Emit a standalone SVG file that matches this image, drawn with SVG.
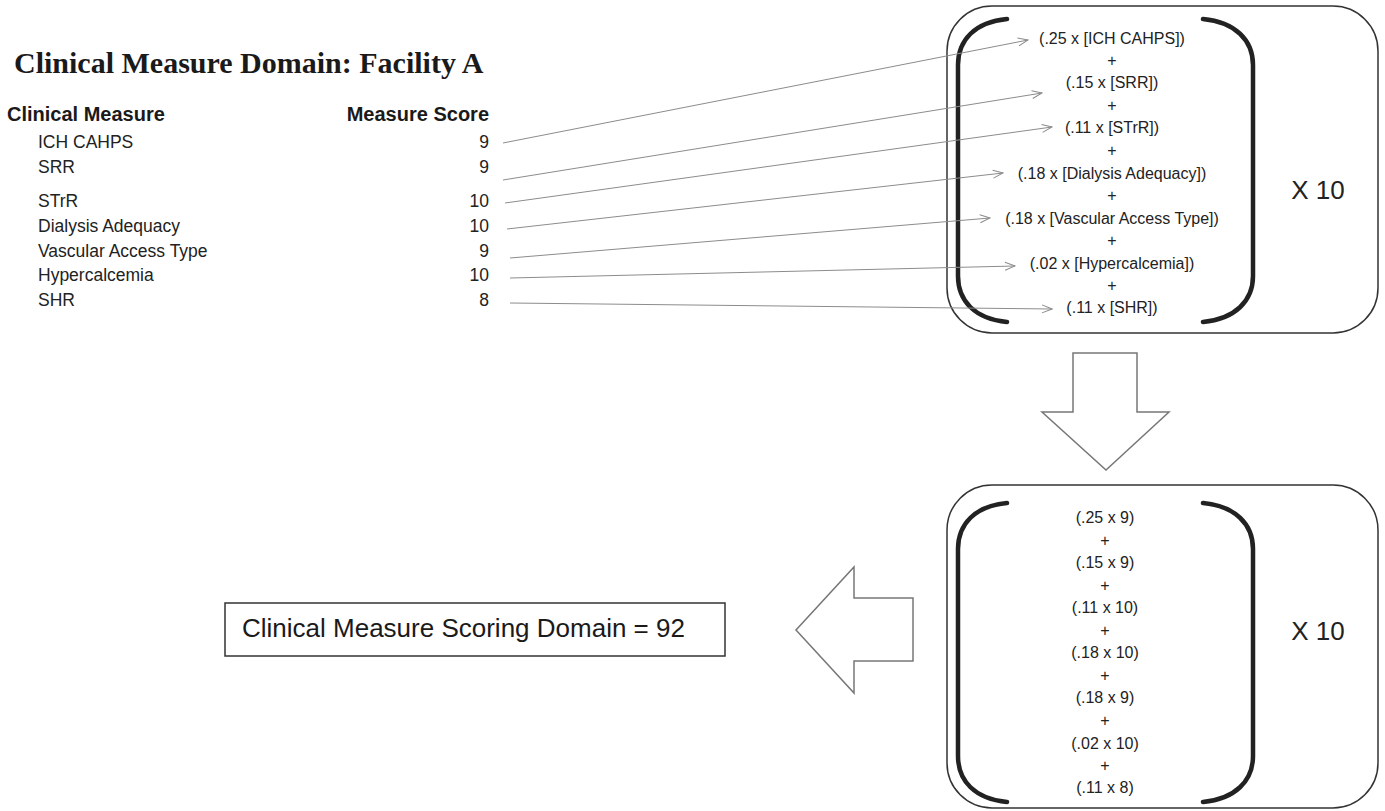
<svg xmlns="http://www.w3.org/2000/svg" width="1385" height="811" viewBox="0 0 1385 811">
  <style>
    .title { font-family: "Liberation Serif", "Times New Roman", serif; font-weight: bold; font-size: 30px; fill: #1a1a1a; }
    .hdr { font-family: "Liberation Sans", Arial, sans-serif; font-weight: bold; font-size: 20px; fill: #1a1a1a; }
    .item { font-family: "Liberation Sans", Arial, sans-serif; font-size: 17.5px; fill: #222; }
    .num { font-family: "Liberation Sans", Arial, sans-serif; font-size: 17.5px; fill: #222; text-anchor: end; }
    .eq { font-family: "Liberation Sans", Arial, sans-serif; font-size: 16px; fill: #222; text-anchor: middle; dominant-baseline: central; }
    .x10 { font-family: "Liberation Sans", Arial, sans-serif; font-size: 26px; fill: #222; text-anchor: middle; dominant-baseline: central; }
    .result { font-family: "Liberation Sans", Arial, sans-serif; font-size: 26px; fill: #1a1a1a; }
    .box { fill: none; stroke: #333; stroke-width: 1.5; }
    .bracket { fill: none; stroke: #222; stroke-width: 4.5; stroke-linecap: round; }
    .bigarrow { fill: #fff; stroke: #777; stroke-width: 1.5; }
    .conn { fill: none; stroke: #8c8c8c; stroke-width: 1; marker-end: url(#open); }
  </style>
  <defs>
    <marker id="open" viewBox="0 0 12 10" refX="11" refY="5" markerWidth="12" markerHeight="10" markerUnits="userSpaceOnUse" orient="auto">
      <path d="M1,1 L11,5 L1,9" fill="none" stroke="#8c8c8c" stroke-width="1"/>
    </marker>
  </defs>
  <rect width="1385" height="811" fill="#fff"/>

  <g id="title">
    <text class="title" x="14" y="73">Clinical Measure Domain: Facility A</text>
  </g>

  <g id="table">
    <text class="hdr" x="7" y="121">Clinical Measure</text>
    <text class="hdr" x="489" y="121" text-anchor="end">Measure Score</text>
    <text class="item" x="38" y="148">ICH CAHPS</text>
    <text class="num" x="489" y="148">9</text>
    <text class="item" x="38" y="173">SRR</text>
    <text class="num" x="489" y="173">9</text>
    <text class="item" x="38" y="207">STrR</text>
    <text class="num" x="489" y="207">10</text>
    <text class="item" x="38" y="232">Dialysis Adequacy</text>
    <text class="num" x="489" y="232">10</text>
    <text class="item" x="38" y="257">Vascular Access Type</text>
    <text class="num" x="489" y="257">9</text>
    <text class="item" x="38" y="281">Hypercalcemia</text>
    <text class="num" x="489" y="281">10</text>
    <text class="item" x="38" y="306">SHR</text>
    <text class="num" x="489" y="306">8</text>
  </g>

  <g id="formula-box">
    <rect class="box" x="947" y="6" width="431" height="327" rx="45" ry="45"/>
    <path class="bracket" d="M1007,19 C975,22 958,40 958,65 L958,276 C958,301 975,319 1007,322"/>
    <path class="bracket" d="M1203,19 C1235,22 1253,40 1253,65 L1253,276 C1253,301 1235,319 1203,322"/>
    <text class="eq" x="1112" y="38">(.25 x [ICH CAHPS])</text>
    <text class="eq" x="1112" y="60">+</text>
    <text class="eq" x="1112" y="82">(.15 x [SRR])</text>
    <text class="eq" x="1112" y="105">+</text>
    <text class="eq" x="1112" y="127">(.11 x [STrR])</text>
    <text class="eq" x="1112" y="150">+</text>
    <text class="eq" x="1112" y="173">(.18 x [Dialysis Adequacy])</text>
    <text class="eq" x="1112" y="195">+</text>
    <text class="eq" x="1112" y="218">(.18 x [Vascular Access Type])</text>
    <text class="eq" x="1112" y="240">+</text>
    <text class="eq" x="1112" y="263">(.02 x [Hypercalcemia])</text>
    <text class="eq" x="1112" y="285">+</text>
    <text class="eq" x="1112" y="307">(.11 x [SHR])</text>
    <text class="x10" x="1318" y="190">X 10</text>
  </g>

  <g id="down-arrow">
    <polygon class="bigarrow" points="1073,353 1137,353 1137,412 1169,412 1106,470 1042,412 1073,412"/>
  </g>

  <g id="values-box">
    <rect class="box" x="947" y="485" width="431" height="323" rx="45" ry="45"/>
    <path class="bracket" d="M1007,503 C975,506 958,524 958,549 L958,756 C958,781 975,799 1007,802"/>
    <path class="bracket" d="M1203,503 C1235,506 1253,524 1253,549 L1253,756 C1253,781 1235,799 1203,802"/>
    <text class="eq" x="1105" y="517">(.25 x 9)</text>
    <text class="eq" x="1105" y="540">+</text>
    <text class="eq" x="1105" y="562">(.15 x 9)</text>
    <text class="eq" x="1105" y="585">+</text>
    <text class="eq" x="1105" y="607">(.11 x 10)</text>
    <text class="eq" x="1105" y="630">+</text>
    <text class="eq" x="1105" y="652">(.18 x 10)</text>
    <text class="eq" x="1105" y="675">+</text>
    <text class="eq" x="1105" y="697">(.18 x 9)</text>
    <text class="eq" x="1105" y="720">+</text>
    <text class="eq" x="1105" y="743">(.02 x 10)</text>
    <text class="eq" x="1105" y="765">+</text>
    <text class="eq" x="1105" y="787">(.11 x 8)</text>
    <text class="x10" x="1318" y="631">X 10</text>
  </g>

  <g id="left-arrow">
    <polygon class="bigarrow" points="913,598 913,661 854,661 854,693 796,630 854,567 854,598"/>
  </g>

  <g id="result">
    <rect x="225" y="603" width="500" height="53" fill="#fff" stroke="#333" stroke-width="1.5"/>
    <text class="result" x="242" y="637">Clinical Measure Scoring Domain = 92</text>
  </g>

  <g id="connectors">
    <line class="conn" x1="503" y1="143" x2="1028" y2="40"/>
    <line class="conn" x1="503" y1="180" x2="1042" y2="93"/>
    <line class="conn" x1="505" y1="203" x2="1052" y2="127"/>
    <line class="conn" x1="507" y1="229" x2="1003" y2="173"/>
    <line class="conn" x1="510" y1="258" x2="990" y2="218"/>
    <line class="conn" x1="510" y1="278" x2="1015" y2="266"/>
    <line class="conn" x1="510" y1="303" x2="1052" y2="309"/>
  </g>
</svg>
